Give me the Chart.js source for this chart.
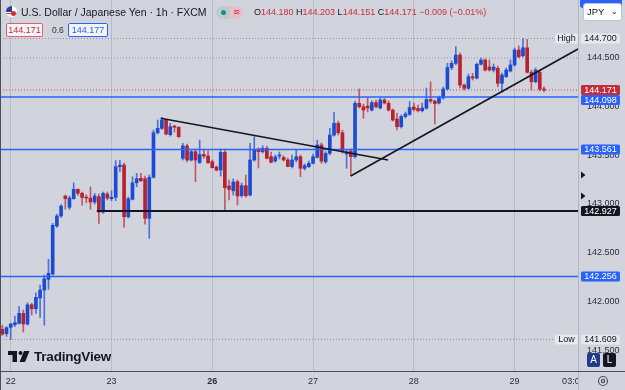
<!DOCTYPE html>
<html><head><meta charset="utf-8">
<script src="https://cdn.jsdelivr.net/npm/chart.js@4/dist/chart.umd.min.js"></script>
<style>
html,body{margin:0;padding:0;background:#d1d4dc;overflow:hidden}
#wrap{position:relative;width:625px;height:390px;background:#d1d4dc;font-family:"Liberation Sans",Arial,sans-serif;color:#131722;overflow:hidden}
#c{position:absolute;left:0;top:0}
.ov{position:absolute;white-space:nowrap;line-height:1}
.red{color:#c8303d}
</style></head><body>
<div id="wrap">
<canvas id="c" width="625" height="390"></canvas>
<div class="ov" style="left:6px;top:6px;width:11px;height:11px;border-radius:50%;overflow:hidden;background:#fff">
  <div style="position:absolute;left:0;top:0;width:6px;height:6px;background:#2b3f8f"></div>
  <div style="position:absolute;left:0;top:7px;width:11px;height:1px;background:#d33"></div>
  <div style="position:absolute;left:5px;top:5px;width:5px;height:5px;border-radius:50%;background:#d7263d"></div>
</div>
<div class="ov" id="title" style="left:21px;top:7px;font-size:10.5px">U.S. Dollar / Japanese Yen · 1h · FXCM</div>
<div class="ov" style="left:216px;top:6px;width:27px;height:13px;border-radius:7px;background:#c3c7cf;overflow:hidden">
  <div style="position:absolute;left:5px;top:4px;width:5px;height:5px;border-radius:50%;background:#089981"></div>
  <div style="position:absolute;left:14px;top:0;width:13px;height:13px;background:#e5c2c8;color:#e03040;font-size:9px;line-height:13px;text-align:center">≋</div>
</div>
<div class="ov" id="ohlc" style="left:254px;top:8px;font-size:9px"></div>
<div class="ov" id="bid" style="left:6px;top:23px;width:35px;height:12px;border:1px solid #e06070;border-radius:2px;background:#f3f4f7;font-size:9px;color:#c8303d;text-align:center;line-height:12px"></div>
<div class="ov" id="spr" style="left:52px;top:26px;font-size:8.5px;color:#333"></div>
<div class="ov" id="ask" style="left:68px;top:23px;width:38px;height:12px;border:1px solid #2962ff;border-radius:2px;background:#f3f4f7;font-size:9px;color:#2962ff;text-align:center;line-height:12px"></div>
<div class="ov" style="left:580px;top:-4px;width:42px;height:12px;border-radius:3px;background:#2962ff"></div>
<div class="ov" style="left:583px;top:3px;width:37px;height:16px;border:1px solid #c0c3cb;border-radius:3px;background:#fff;font-size:9.5px;line-height:16px">
  <span style="position:absolute;left:3px">JPY</span><span style="position:absolute;right:3px;font-size:8px">&#8964;</span>
</div>
<div class="ov" style="left:34px;top:350px;font-size:13.5px;font-weight:bold;letter-spacing:-0.2px">TradingView</div>
<div class="ov" style="left:587px;top:353px;width:13px;height:14px;border-radius:2px;background:#1d3a8c;color:#fff;font-size:10px;line-height:14px;text-align:center">A</div>
<div class="ov" style="left:603px;top:353px;width:13px;height:14px;border-radius:2px;background:#131722;color:#fff;font-size:10px;line-height:14px;text-align:center">L</div>
</div>
<script>
// ---- data (USD/JPY, 1h candles) ----
const open=[
141.712,141.667,141.733,141.760,141.774,141.877,141.767,141.965,141.924,142.034,
142.116,142.226,142.281,142.774,142.877,143.082,142.966,143.054,143.151,143.110,
143.068,143.061,143.020,143.075,142.917,143.102,143.054,143.068,143.383,143.400,
142.869,143.048,143.218,143.264,143.260,142.853,143.274,143.732,143.777,143.863,
143.712,143.801,143.788,143.469,143.596,143.452,143.537,143.426,143.508,143.493,
143.434,143.380,143.349,143.531,143.185,143.136,143.229,143.085,143.188,143.092,
143.452,143.565,143.537,143.572,143.486,143.441,143.493,143.478,143.452,143.385,
143.452,143.486,143.366,143.383,143.418,143.479,143.606,143.434,143.520,143.708,
143.829,143.732,143.513,143.544,143.486,144.034,143.999,144.006,143.965,144.042,
143.986,144.068,144.034,143.965,143.873,143.794,143.899,143.921,143.996,143.981,
143.958,143.983,144.073,144.058,144.037,144.089,144.181,144.402,144.445,144.530,
144.222,144.188,144.308,144.294,144.435,144.479,144.407,144.376,144.394,144.240,
144.308,144.366,144.428,144.582,144.523,144.605,144.353,144.256,144.353,144.180];
const high=[
141.754,141.740,141.776,141.849,141.945,141.911,141.986,141.980,142.088,142.168,
142.270,142.432,142.801,142.897,142.993,143.092,143.082,143.218,143.157,143.123,
143.095,143.177,143.110,143.102,143.123,143.123,143.136,143.445,143.452,143.421,
143.071,143.280,143.315,143.315,143.287,143.298,143.760,143.863,143.890,143.870,
143.829,143.808,143.794,143.623,143.616,143.562,143.565,143.657,143.555,143.544,
143.452,143.390,143.565,143.565,143.246,143.257,143.246,143.215,143.298,143.623,
143.691,143.575,143.599,143.596,143.534,143.503,143.534,143.493,143.472,143.503,
143.555,143.503,143.411,143.441,143.513,143.657,143.627,143.537,143.777,143.942,
143.852,143.760,143.555,143.565,144.058,144.181,144.027,144.094,144.058,144.068,
144.089,144.084,144.058,143.976,143.935,143.914,143.945,144.053,144.037,144.017,
144.037,144.191,144.256,144.068,144.109,144.202,144.445,144.470,144.616,144.551,
144.232,144.335,144.342,144.449,144.500,144.490,144.479,144.438,144.417,144.346,
144.397,144.479,144.603,144.623,144.700,144.690,144.376,144.397,144.376,144.203];
const low=[
141.650,141.640,141.609,141.739,141.767,141.685,141.757,141.860,141.877,141.836,
141.754,142.124,142.270,142.760,142.863,142.948,142.945,143.050,143.089,142.987,
143.013,142.945,142.999,142.801,142.904,143.041,143.034,143.034,143.331,142.760,
142.856,143.041,143.177,143.229,142.794,142.647,143.267,143.719,143.767,143.709,
143.698,143.739,143.685,143.452,143.431,143.441,143.229,143.416,143.472,143.416,
143.370,143.339,143.287,142.928,143.041,143.092,142.989,143.071,143.071,143.082,
143.441,143.370,143.524,143.462,143.421,143.431,143.462,143.441,143.380,143.370,
143.431,143.280,143.349,143.375,143.411,143.472,143.418,143.418,143.503,143.698,
143.709,143.520,143.366,143.292,143.472,143.986,143.880,143.945,143.955,143.986,
143.976,144.027,143.955,143.852,143.760,143.780,143.883,143.909,143.955,143.945,
143.945,143.976,144.037,143.822,144.027,144.078,144.171,144.380,144.430,144.192,
144.171,144.181,144.274,144.284,144.428,144.366,144.366,144.356,144.205,144.147,
144.299,144.356,144.418,144.500,144.510,144.346,144.171,144.243,144.161,144.151];
const close=[
141.664,141.729,141.767,141.780,141.877,141.767,141.965,141.924,142.041,142.116,
142.232,142.288,142.781,142.877,142.979,143.054,143.061,143.151,143.110,143.068,
143.061,143.020,143.082,142.917,143.110,143.061,143.068,143.383,143.400,142.869,
143.054,143.218,143.260,143.239,142.853,143.274,143.732,143.777,143.863,143.719,
143.794,143.788,143.691,143.596,143.452,143.537,143.452,143.508,143.493,143.424,
143.373,143.349,143.531,143.167,143.149,143.226,143.082,143.188,143.085,143.452,
143.555,143.537,143.572,143.469,143.428,143.483,143.498,143.452,143.385,143.452,
143.486,143.366,143.393,143.418,143.486,143.606,143.441,143.520,143.708,143.829,
143.732,143.537,143.537,143.486,144.034,143.999,143.965,143.986,144.042,143.999,
144.068,144.037,143.965,143.863,143.794,143.899,143.924,143.991,143.971,143.958,
143.986,144.073,144.058,144.032,144.089,144.181,144.402,144.445,144.530,144.222,
144.188,144.308,144.294,144.435,144.479,144.376,144.376,144.407,144.240,144.325,
144.376,144.428,144.582,144.513,144.605,144.353,144.256,144.376,144.180,144.171];

const priceTicks=[141.5,142.0,142.5,143.0,143.5,144.0,144.5,145.0];
const timeTickIndex=[2,26,50,74,98,122,136];
const timeTickText=['22','23','26','27','28','29','03:00'];
const timeTickBold=[false,false,true,false,false,false,false];
const timeTickGrid=[true,true,true,true,true,true,false];
const xMin=-0.55, xMax=137.1;
const yMin=141.2845, yMax=145.0955;

const levelPrices=[144.098,143.561,142.927,142.256];
const levelStart=[-0.55,-0.55,22.5,-0.55];
const levelColors=['#2962ff','#2962ff','#131722','#2962ff'];
const trendA=[{x:37.72,y:143.880},{x:91.86,y:143.452}];
const trendB=[{x:82.97,y:143.288},{x:137.1,y:144.592}];
const extraDotted=[144.5];
const markerPrices=[143.298,143.082];
const askPrice=144.177, spreadText='0.6';

// ---- styles ----
const FONT='"Liberation Sans", Arial, sans-serif';
const BG='#d1d4dc';
const UP='#1c4bd2', DOWN='#b8212f';
const UPW='rgba(45,90,215,0.8)', DOWNW='rgba(190,45,60,0.75)';
const GRID='rgba(120,124,136,0.28)';

const n=open.length;
const idx=open.map((_,i)=>i);
const isUp=idx.map(i=>close[i]>=open[i]);
const lastPrice=close[n-1];
const hiPrice=Math.max(...high), loPrice=Math.min(...low);

// header text from data
const chg=close[n-1]-close[n-2];
const sign=chg<0?'\u2212':'+';
document.getElementById('ohlc').innerHTML=
 'O<span class="red">'+open[n-1].toFixed(3)+'</span> H<span class="red">'+high[n-1].toFixed(3)+
 '</span> L<span class="red">'+low[n-1].toFixed(3)+'</span> C<span class="red">'+close[n-1].toFixed(3)+
 '</span> <span class="red">'+sign+Math.abs(chg).toFixed(3)+' ('+sign+Math.abs(chg/close[n-2]*100).toFixed(2)+'%)</span>';
document.getElementById('bid').textContent=lastPrice.toFixed(3);
document.getElementById('ask').textContent=askPrice.toFixed(3);
document.getElementById('spr').textContent=spreadText;

const hline=(p,x0,color,w,dash,order)=>({type:'line',data:[{x:x0,y:p},{x:xMax,y:p}],borderColor:color,borderWidth:w,borderDash:dash||[],pointRadius:0,order:order});

const datasets=[
  hline(hiPrice,xMin,'#8d919c',1,[1,2],6),
  hline(loPrice,xMin,'#8d919c',1,[1,2],6),
  ...extraDotted.map(p=>hline(p,xMin,'#8d919c',1,[1,2],6)),
  hline(lastPrice,xMin,'#d0404c',1,[1,2],6),
  {type:'bar',data:idx.map(i=>({x:i,y:[low[i],high[i]]})),backgroundColor:idx.map(i=>isUp[i]?UPW:DOWNW),barThickness:1,grouped:false,borderWidth:0,order:4},
  {type:'bar',data:idx.map(i=>({x:i,y:[open[i],close[i]]})),backgroundColor:idx.map(i=>isUp[i]?UP:DOWN),barThickness:3,minBarLength:1,grouped:false,borderWidth:0,order:3},
  ...levelPrices.map((p,k)=>hline(p,levelStart[k],levelColors[k],levelColors[k]==='#131722'?2:1.5,[],1)),
  {type:'line',data:trendA,borderColor:'#131722',borderWidth:1.6,pointRadius:0,order:0},
  {type:'line',data:trendB,borderColor:'#131722',borderWidth:1.6,pointRadius:0,order:0}
];

const deco={
  id:'deco',
  afterDraw(chart){
    const {ctx,chartArea:a,scales:{y}}=chart;
    ctx.save();
    // mask time-axis overflow under price axis
    ctx.fillStyle=BG; ctx.fillRect(a.right+0.5,a.bottom+1,60,30);
    // borders
    ctx.lineWidth=1;
    ctx.strokeStyle='#b3b6be'; ctx.beginPath(); ctx.moveTo(a.right+0.5,0); ctx.lineTo(a.right+0.5,390); ctx.stroke();
    ctx.strokeStyle='#4d5059'; ctx.beginPath(); ctx.moveTo(0,a.bottom+0.5); ctx.lineTo(625,a.bottom+0.5); ctx.stroke();
    ctx.beginPath(); ctx.moveTo(0.5,0); ctx.lineTo(0.5,390); ctx.stroke();
    // marker triangles
    ctx.fillStyle='#131722';
    markerPrices.forEach(p=>{const py=y.getPixelForValue(p);ctx.beginPath();ctx.moveTo(581,py-3.5);ctx.lineTo(585.5,py);ctx.lineTo(581,py+3.5);ctx.closePath();ctx.fill();});
    // price axis labels
    ctx.font='9px '+FONT; ctx.textAlign='center'; ctx.textBaseline='middle';
    const boxes=[{v:lastPrice,bg:'#c22f3b',fg:'#fff'}].concat(levelPrices.map((p,k)=>({v:p,bg:levelColors[k],fg:'#fff'})));
    boxes.forEach(b=>b.py=y.getPixelForValue(b.v));
    boxes.sort((p,q)=>p.py-q.py);
    let prev=-99;
    boxes.forEach(b=>{let py=b.py; if(py-5<prev) py=prev+5; prev=py+5;
      ctx.fillStyle=b.bg; ctx.beginPath(); ctx.roundRect(581,py-5,39,10,1.5); ctx.fill();
      ctx.fillStyle=b.fg; ctx.fillText(b.v.toFixed(3),600.5,py+0.5);});
    [[hiPrice,'High'],[loPrice,'Low']].forEach(([v,t])=>{const py=y.getPixelForValue(v);
      ctx.fillStyle='#e6e8ee'; ctx.beginPath(); ctx.roundRect(555,py-5,23,10,1.5); ctx.fill();
      ctx.beginPath(); ctx.roundRect(581,py-5,39,10,1.5); ctx.fill();
      ctx.fillStyle='#131722'; ctx.fillText(t,566.5,py+0.5); ctx.fillText(v.toFixed(3),600.5,py+0.5);});
    // gear
    ctx.strokeStyle='#50535e'; ctx.lineWidth=1.2;
    ctx.beginPath(); ctx.arc(603,381,4.5,0,Math.PI*2); ctx.stroke();
    ctx.beginPath(); ctx.arc(603,381,1.6,0,Math.PI*2); ctx.stroke();
    // TradingView logo mark
    ctx.fillStyle='#131722';
    ctx.fillRect(8,351,9,4); ctx.fillRect(12.5,351,4.5,11);
    ctx.beginPath(); ctx.arc(20.5,353,2,0,Math.PI*2); ctx.fill();
    ctx.beginPath(); ctx.moveTo(24,351); ctx.lineTo(29.5,351); ctx.lineTo(25,362); ctx.lineTo(19.5,362); ctx.closePath(); ctx.fill();
    ctx.restore();
  }
};

new Chart(document.getElementById('c'),{
  type:'bar',
  data:{datasets},
  options:{
    responsive:false,animation:false,devicePixelRatio:1,events:[],
    layout:{padding:0},
    plugins:{legend:{display:false},tooltip:{enabled:false}},
    scales:{
      x:{type:'linear',min:xMin,max:xMax,offset:false,
        grid:{offset:false,drawTicks:false,lineWidth:1,color:c=>timeTickGrid[c.index]?GRID:'rgba(0,0,0,0)'},
        border:{display:false},
        ticks:{autoSkip:false,maxRotation:0,padding:5,color:'#2a2e39',
          font:c=>({family:FONT,size:9,weight:timeTickBold[c.index]?'bold':'normal'}),
          callback:(v,i)=>timeTickText[i]},
        afterBuildTicks:s=>{s.ticks=timeTickIndex.map(v=>({value:v}));},
        afterFit:s=>{s.height=19;s.paddingLeft=0;s.paddingRight=0;}
      },
      y:{type:'linear',position:'right',min:yMin,max:yMax,
        grid:{display:false,drawTicks:false},border:{display:false},
        ticks:{padding:9,color:'#2a2e39',font:{family:FONT,size:9},callback:v=>v.toFixed(3)},
        afterBuildTicks:s=>{s.ticks=priceTicks.map(v=>({value:v}));},
        afterFit:s=>{s.width=47;s.paddingTop=0;s.paddingBottom=0;}
      }
    }
  },
  plugins:[deco]
});
</script>
</body></html>
